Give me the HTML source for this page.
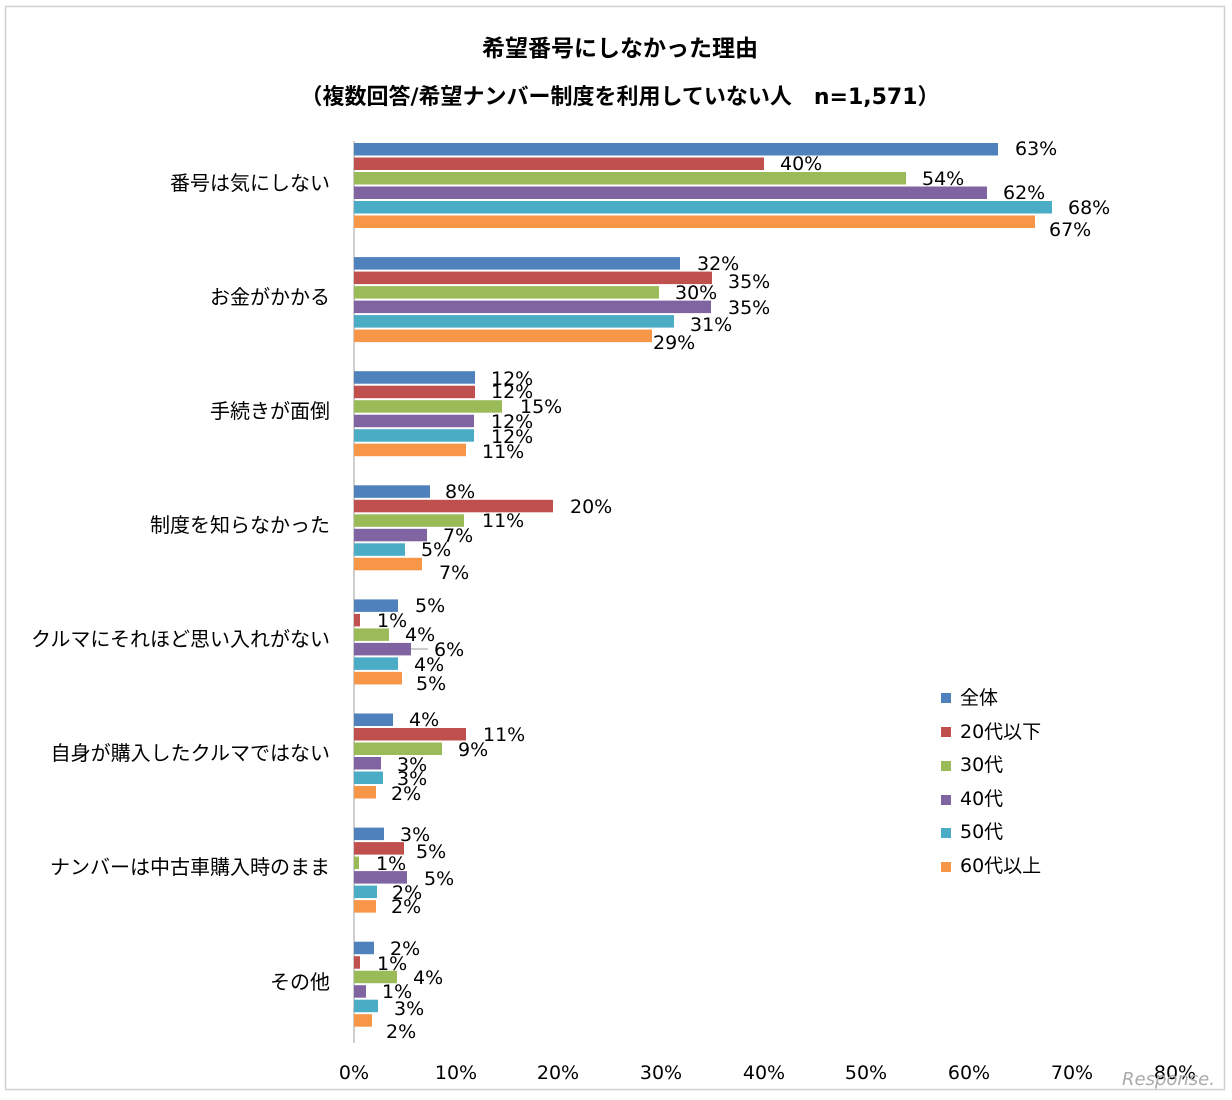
<!DOCTYPE html>
<html><head><meta charset="utf-8"><style>
html,body{margin:0;padding:0;background:#fff;}
svg{display:block;font-family:"DejaVu Sans","Noto Sans CJK JP",sans-serif;}
</style></head><body>
<svg width="1232" height="1100" viewBox="0 0 1232 1100" xmlns="http://www.w3.org/2000/svg">
<rect x="5.5" y="6.5" width="1219" height="1083" fill="#fff" stroke="#d0d0d0" stroke-width="1.5"/>
<g font-weight="bold" fill="#000" text-anchor="middle">
<text x="620" y="56" font-size="23">希望番号にしなかった理由</text>
<text x="620" y="104" font-size="22">（複数回答/希望ナンバー制度を利用していない人　n=1,571）</text>
</g>
<line x1="354" y1="141" x2="354" y2="1043" stroke="#bfbfbf" stroke-width="1.5"/>
<g id="bars">
<rect x="354" y="143" width="644" height="12.5" fill="#4f81bd"/>
<rect x="354" y="157.5" width="410" height="12.5" fill="#c0504d"/>
<rect x="354" y="172" width="552" height="12.5" fill="#9bbb59"/>
<rect x="354" y="186.5" width="633" height="12.5" fill="#8064a2"/>
<rect x="354" y="201" width="698" height="12.5" fill="#4bacc6"/>
<rect x="354" y="215.5" width="681" height="12.5" fill="#f79646"/>
<rect x="354" y="257.1" width="326" height="12.5" fill="#4f81bd"/>
<rect x="354" y="271.6" width="358" height="12.5" fill="#c0504d"/>
<rect x="354" y="286.1" width="305" height="12.5" fill="#9bbb59"/>
<rect x="354" y="300.6" width="357" height="12.5" fill="#8064a2"/>
<rect x="354" y="315.1" width="320" height="12.5" fill="#4bacc6"/>
<rect x="354" y="329.6" width="298" height="12.5" fill="#f79646"/>
<rect x="354" y="371.2" width="121" height="12.5" fill="#4f81bd"/>
<rect x="354" y="385.7" width="121" height="12.5" fill="#c0504d"/>
<rect x="354" y="400.2" width="148" height="12.5" fill="#9bbb59"/>
<rect x="354" y="414.7" width="120" height="12.5" fill="#8064a2"/>
<rect x="354" y="429.2" width="120" height="12.5" fill="#4bacc6"/>
<rect x="354" y="443.7" width="112" height="12.5" fill="#f79646"/>
<rect x="354" y="485.3" width="76" height="12.5" fill="#4f81bd"/>
<rect x="354" y="499.8" width="199" height="12.5" fill="#c0504d"/>
<rect x="354" y="514.3" width="110" height="12.5" fill="#9bbb59"/>
<rect x="354" y="528.8" width="73" height="12.5" fill="#8064a2"/>
<rect x="354" y="543.3" width="51" height="12.5" fill="#4bacc6"/>
<rect x="354" y="557.8" width="68" height="12.5" fill="#f79646"/>
<rect x="354" y="599.4" width="44" height="12.5" fill="#4f81bd"/>
<rect x="354" y="613.9" width="6" height="12.5" fill="#c0504d"/>
<rect x="354" y="628.4" width="35" height="12.5" fill="#9bbb59"/>
<rect x="354" y="642.9" width="57" height="12.5" fill="#8064a2"/>
<rect x="354" y="657.4" width="44" height="12.5" fill="#4bacc6"/>
<rect x="354" y="671.9" width="48" height="12.5" fill="#f79646"/>
<line x1="411" y1="649" x2="428" y2="649" stroke="#999" stroke-width="1"/>
<rect x="354" y="713.5" width="39" height="12.5" fill="#4f81bd"/>
<rect x="354" y="728" width="112" height="12.5" fill="#c0504d"/>
<rect x="354" y="742.5" width="88" height="12.5" fill="#9bbb59"/>
<rect x="354" y="757" width="27" height="12.5" fill="#8064a2"/>
<rect x="354" y="771.5" width="29" height="12.5" fill="#4bacc6"/>
<rect x="354" y="786" width="22" height="12.5" fill="#f79646"/>
<rect x="354" y="827.6" width="30" height="12.5" fill="#4f81bd"/>
<rect x="354" y="842.1" width="50" height="12.5" fill="#c0504d"/>
<rect x="354" y="856.6" width="5" height="12.5" fill="#9bbb59"/>
<rect x="354" y="871.1" width="53" height="12.5" fill="#8064a2"/>
<rect x="354" y="885.6" width="23" height="12.5" fill="#4bacc6"/>
<rect x="354" y="900.1" width="22" height="12.5" fill="#f79646"/>
<rect x="354" y="941.7" width="20" height="12.5" fill="#4f81bd"/>
<rect x="354" y="956.2" width="6" height="12.5" fill="#c0504d"/>
<rect x="354" y="970.7" width="43" height="12.5" fill="#9bbb59"/>
<rect x="354" y="985.2" width="12" height="12.5" fill="#8064a2"/>
<rect x="354" y="999.7" width="24" height="12.5" fill="#4bacc6"/>
<rect x="354" y="1014.2" width="18" height="12.5" fill="#f79646"/>
</g>
<g font-size="19" fill="#000" dominant-baseline="central">
<text x="1015" y="149">63%</text><text x="780" y="164">40%</text><text x="922" y="179">54%</text><text x="1003" y="193">62%</text><text x="1068" y="208">68%</text><text x="1049" y="230">67%</text>
<text x="697" y="264">32%</text><text x="728" y="282">35%</text><text x="675" y="293">30%</text><text x="728" y="308">35%</text><text x="690" y="325">31%</text><text x="653" y="343">29%</text>
<text x="491" y="379">12%</text><text x="491" y="392">12%</text><text x="520" y="407">15%</text><text x="491" y="422">12%</text><text x="491" y="437">12%</text><text x="482" y="452">11%</text>
<text x="445" y="492">8%</text><text x="570" y="507">20%</text><text x="482" y="521">11%</text><text x="443" y="536">7%</text><text x="421" y="550">5%</text><text x="439" y="573">7%</text>
<text x="415" y="606">5%</text><text x="377" y="621">1%</text><text x="405" y="635">4%</text><text x="434" y="650">6%</text><text x="414" y="665">4%</text><text x="416" y="684">5%</text>
<text x="409" y="720">4%</text><text x="483" y="735">11%</text><text x="458" y="750">9%</text><text x="397" y="765">3%</text><text x="397" y="779">3%</text><text x="391" y="794">2%</text>
<text x="400" y="835">3%</text><text x="416" y="852">5%</text><text x="376" y="864">1%</text><text x="424" y="879">5%</text><text x="392" y="893">2%</text><text x="391" y="907">2%</text>
<text x="390" y="949">2%</text><text x="377" y="964">1%</text><text x="413" y="978">4%</text><text x="382" y="992">1%</text><text x="394" y="1009">3%</text><text x="386" y="1032">2%</text>
</g>
<g font-size="20" fill="#000" text-anchor="end" dominant-baseline="central">
<text x="330" y="183">番号は気にしない</text>
<text x="330" y="297">お金がかかる</text>
<text x="330" y="411">手続きが面倒</text>
<text x="330" y="525">制度を知らなかった</text>
<text x="330" y="639">クルマにそれほど思い入れがない</text>
<text x="330" y="753">自身が購入したクルマではない</text>
<text x="330" y="867">ナンバーは中古車購入時のまま</text>
<text x="330" y="982">その他</text>
</g>
<g font-size="19" fill="#000" text-anchor="middle" dominant-baseline="central">
<text x="354" y="1073">0%</text><text x="456" y="1073">10%</text><text x="558" y="1073">20%</text><text x="661" y="1073">30%</text><text x="764" y="1073">40%</text><text x="866" y="1073">50%</text><text x="969" y="1073">60%</text><text x="1072" y="1073">70%</text><text x="1175" y="1073">80%</text>
</g>
<g font-size="19" fill="#000" dominant-baseline="central">
<rect x="941" y="693" width="10" height="10" fill="#4f81bd"/><text x="960" y="698">全体</text>
<rect x="941" y="727" width="10" height="10" fill="#c0504d"/><text x="960" y="732">20代以下</text>
<rect x="941" y="761" width="10" height="10" fill="#9bbb59"/><text x="960" y="765">30代</text>
<rect x="941" y="795" width="10" height="10" fill="#8064a2"/><text x="960" y="799">40代</text>
<rect x="941" y="828" width="10" height="10" fill="#4bacc6"/><text x="960" y="832">50代</text>
<rect x="941" y="862" width="10" height="10" fill="#f79646"/><text x="960" y="866">60代以上</text>
</g>
<text x="1122" y="1085" font-size="18" fill="#aaa" font-style="italic">Response.</text>
</svg>
</body></html>
